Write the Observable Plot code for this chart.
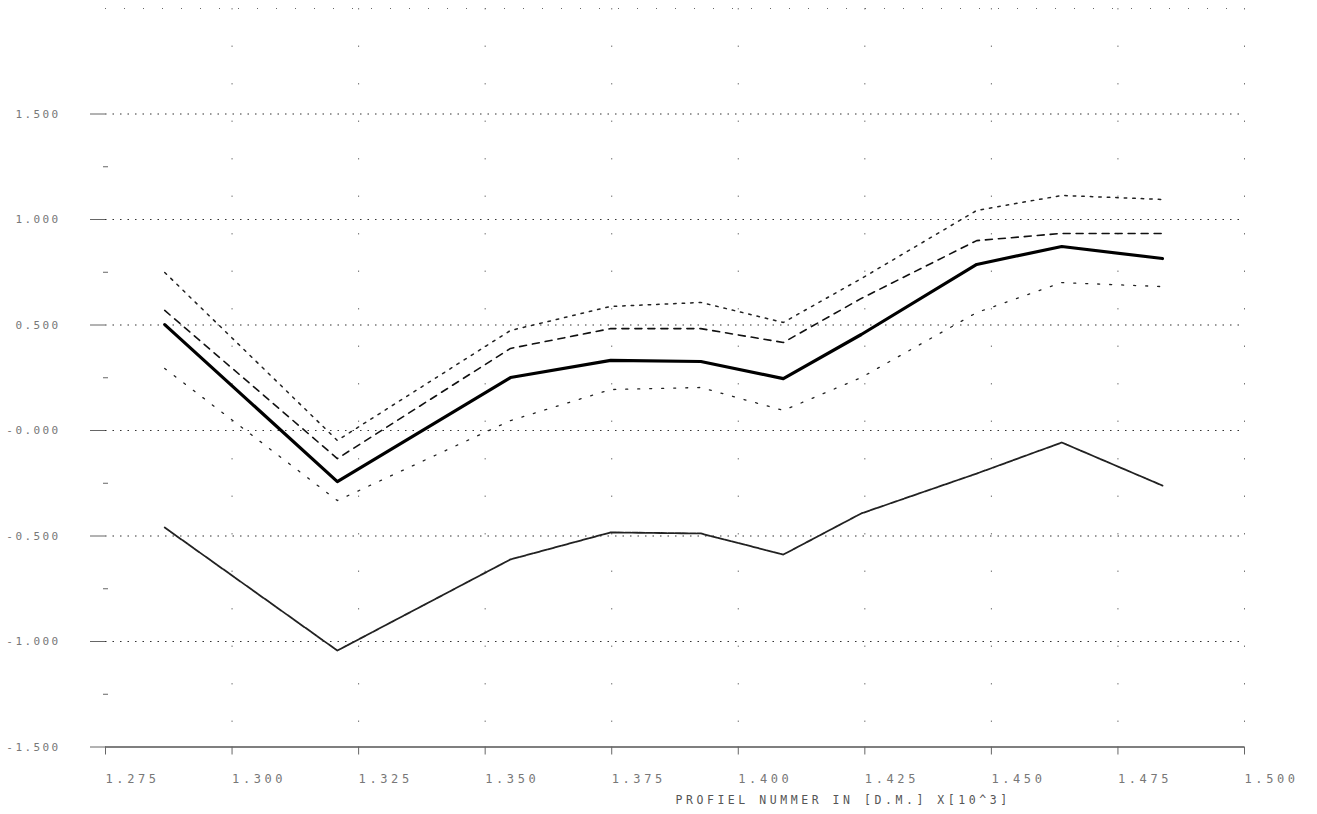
<!DOCTYPE html>
<html><head><meta charset="utf-8">
<script src="https://cdn.jsdelivr.net/npm/d3@7"></script>
<script src="https://cdn.jsdelivr.net/npm/@observablehq/plot@0.6"></script>
<style>body{margin:0;background:#fff;} svg{display:block;}</style>
</head><body><div id="chart"></div>
<script>
// Profile numbers (x 10^3)
const profiles = [1.2867, 1.3208, 1.3550, 1.3748, 1.3926, 1.4089, 1.4243, 1.4471, 1.4639, 1.4838];
// Series values
const mainSeries   = [0.502, -0.242, 0.251, 0.332, 0.327, 0.246, 0.455, 0.787, 0.872, 0.815];
const dashedSeries = [0.569, -0.133, 0.389, 0.483, 0.483, 0.417, 0.626, 0.900, 0.934, 0.934];
const upperDotted  = [0.749, -0.047, 0.474, 0.588, 0.607, 0.512, 0.720, 1.043, 1.114, 1.095];
const lowerDotted  = [0.294, -0.332, 0.047, 0.194, 0.204, 0.095, 0.251, 0.559, 0.701, 0.682];
const bottomSeries = [-0.460, -1.043, -0.611, -0.483, -0.488, -0.588, -0.393, -0.204, -0.057, -0.261];

const xTicks = [1.275, 1.300, 1.325, 1.350, 1.375, 1.400, 1.425, 1.450, 1.475, 1.500];
const xTickLabels = ["1.275", "1.300", "1.325", "1.350", "1.375", "1.400", "1.425", "1.450", "1.475", "1.500"];
const yTicks = [1.5, 1.0, 0.5, 0.0, -0.5, -1.0, -1.5];
const yTickLabels = ["1.500", "1.000", "0.500", "-0.000", "-0.500", "-1.000", "-1.500"];
const yMinorTicks = [1.25, 0.75, 0.25, -0.25, -0.75, -1.25];
const yGrid = [1.5, 1.0, 0.5, 0.0, -0.5, -1.0];
const yTop = [2.0];
const xTitle = "PROFIEL NUMMER IN [D.M.] X[10^3]";

const px = (d, i) => profiles[i];
const font = "DejaVu Sans Mono";

const chart = Plot.plot({
  width: 1317,
  height: 814,
  marginLeft: 105,
  marginRight: 73,
  marginTop: 8,
  marginBottom: 67.5,
  style: {background: "#fff", fontFamily: font},
  x: {domain: [1.275, 1.5]},
  y: {domain: [-1.5, 2.0]},
  marks: [
    // grid
    Plot.ruleY(yGrid, {stroke: "#333", strokeWidth: 1.2, strokeDasharray: "1.5,6"}),
    Plot.ruleY(yTop, {stroke: "#666", strokeWidth: 1, strokeDasharray: "1,18"}),
    Plot.ruleX(xTicks.slice(1), {stroke: "#777", strokeWidth: 1, strokeDasharray: "1.5,36"}),
    // bottom axis line
    Plot.ruleY([-1.5], {stroke: "#555", strokeWidth: 1.6}),
    // axes
    Plot.axisX({ticks: xTicks, tickFormat: (d) => xTickLabels[xTicks.indexOf(d)] ?? "", tickSize: 8,
      tickPadding: 19, textAnchor: "start", dx: 0, fontSize: 12, fill: "#777", stroke: "#666",
      label: null, ariaLabel: "x-axis"}),
    Plot.axisY({ticks: yTicks, tickFormat: (d) => yTickLabels[yTicks.indexOf(d)] ?? "", tickSize: 15,
      tickPadding: 30, fontSize: 11, fill: "#777", stroke: "#666", label: null, ariaLabel: "y-axis"}),
    Plot.axisY({ticks: yMinorTicks, tickFormat: () => "", tickSize: 5, dx: 3, stroke: "#666", label: null}),
    // series
    Plot.line(bottomSeries, {x: px, y: (d) => d, stroke: "#222", strokeWidth: 1.8, strokeDasharray: "6,1.2"}),
    Plot.line(lowerDotted, {x: px, y: (d) => d, stroke: "#222", strokeWidth: 1.3, strokeDasharray: "2,10"}),
    Plot.line(upperDotted, {x: px, y: (d) => d, stroke: "#222", strokeWidth: 1.5, strokeDasharray: "2.5,6"}),
    Plot.line(dashedSeries, {x: px, y: (d) => d, stroke: "#111", strokeWidth: 1.6, strokeDasharray: "7,6"}),
    Plot.line(mainSeries, {x: px, y: (d) => d, stroke: "#000", strokeWidth: 3.2}),
    // axis title
    Plot.text([xTitle], {frameAnchor: "bottom-left", dx: 570, dy: 57, textAnchor: "start",
      fontSize: 11.5, fill: "#555", fontFamily: font})
  ]
});
// letter spacing to imitate the plotter lettering
d3.select(chart).selectAll("g[aria-label='x-axis'] text, g[aria-label='x-axis tick label'] text").attr("letter-spacing", "3.6px");
d3.select(chart).selectAll("g[aria-label='y-axis'] text, g[aria-label='y-axis tick label'] text").attr("letter-spacing", "2.4px");
d3.select(chart).selectAll("text").filter(function () { return this.textContent === xTitle; }).attr("letter-spacing", "3.55px");
document.getElementById("chart").appendChild(chart);
</script>
</body></html>
